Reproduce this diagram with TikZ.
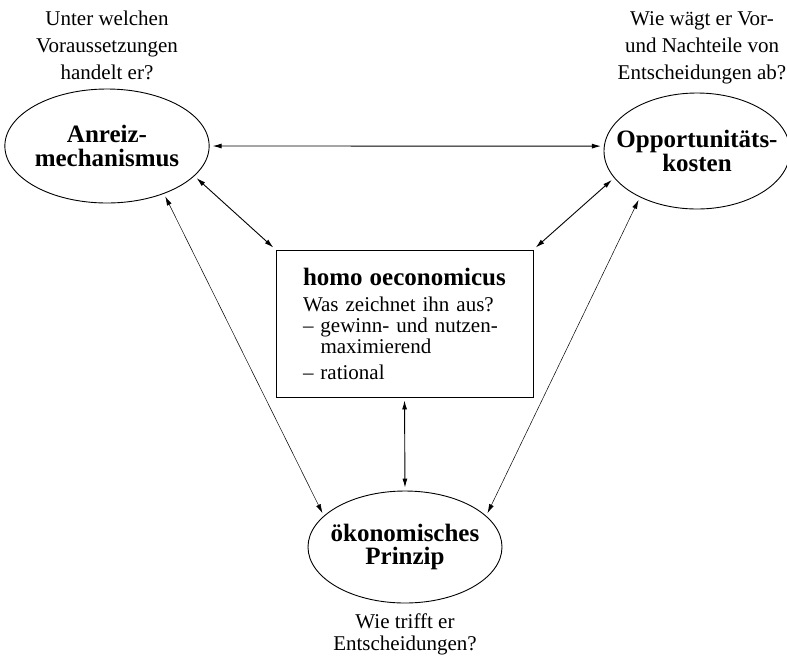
\documentclass[tikz,border=0pt]{standalone}
\usepackage{fontspec}
\setmainfont{Liberation Serif}
\usetikzlibrary{shapes.geometric,arrows.meta}

\begin{document}
\begin{tikzpicture}
		[
			x=1pt, y=-1pt,
			enode/.style = {ellipse, align=center, draw=black, line width=0.9pt, inner sep=0pt, font=\fontsize{25}{23.5}\selectfont\bfseries},
			bxnode/.style = {rectangle, align=left, draw=black, line width=0.9pt, text width=203pt, inner xsep=27pt, inner ysep=0pt, minimum height=147pt, font=\fontsize{21}{21}\selectfont},
			qnode/.style = {align=center, inner sep=0pt, font=\fontsize{21}{27}\selectfont},
			link/.style = {<->, >={Latex[length=9pt,width=5pt]}, line width=0.9pt, shorten <=3pt, shorten >=3pt},
			thinlink/.style = {link, line width=0.5pt},
		]

		\useasboundingbox (0,0) rectangle (787,657);

		% ellipses
		\node[enode, minimum width=196pt, minimum height=114pt] (anreiz) 	at ( 107, 146 ) {Anreiz-\\mechanismus};
		\node[enode, inner xsep=-15pt, minimum width=186pt, minimum height=116pt] (opport) 	at ( 697, 151 ) {Opportunitäts-\\kosten};
		\node[enode, inner xsep=-6.5pt, minimum width=194pt, minimum height=112pt] (prinzip) 	at ( 405, 547 ) {ökonomisches\\Prinzip};

		% box in the middle
		\node[bxnode] (homo) 	at ( 404.5, 323.5 ) {{\fontsize{25}{25}\selectfont\bfseries homo oeconomicus}\\[5pt]
			Was zeichnet ihn aus?\\
			– gewinn- und nutzen-\\
			\phantom{– }maximierend\\[5pt]
			– rational};

		% questions
		\node[qnode, anchor=north] (qanreiz) 	at ( 107, 10.7 ) {Unter welchen\\Voraussetzungen\\handelt er?};
		\node[qnode, anchor=north] (qopport) 	at ( 702, 11 ) {Wie wägt er Vor-\\und Nachteile von\\Entscheidungen ab?};
		\node[qnode, anchor=north, font=\fontsize{21}{22.5}\selectfont] (qprinzip) 	at ( 405, 613.5 ) {Wie trifft er\\Entscheidungen?};

		\foreach \from/\to in {anreiz.east/opport.177,anreiz.-19/homo.north west,opport.-162/homo.north east,homo.south/prinzip.north}
		\draw[link] (\from) -- (\to);

		\foreach \from/\to in {anreiz.-40/prinzip.159,opport.-141/prinzip.21}
		\draw[thinlink] (\from) -- (\to);

		\end{tikzpicture}
\end{document}
